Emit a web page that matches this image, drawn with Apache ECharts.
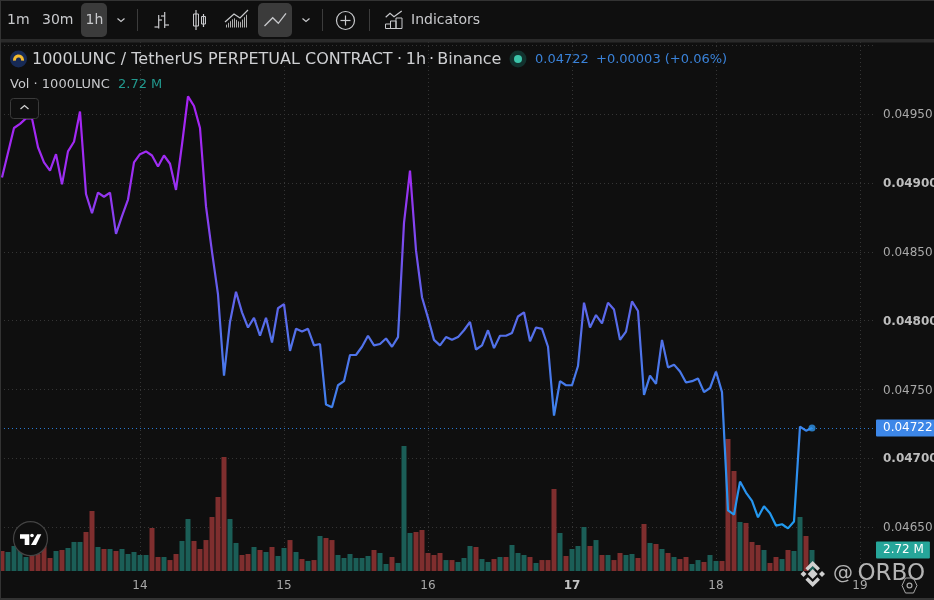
<!DOCTYPE html>
<html><head><meta charset="utf-8">
<style>html,body{margin:0;padding:0;background:#0f0f0f}#c{width:934px;height:600px}</style>
<script src="https://cdn.jsdelivr.net/npm/echarts@6/dist/echarts.min.js"></script>
</head><body><div id="c"></div>
<script>
const prices=[.04904,.04922,.0494,.04943,.04947,.04947,.04926,.04915,.04909,.04921,.04899,.04923,.0493,.04952,.04892,.04878,.04893,.0489,.04893,.04863,.04876,.04888,.04915,.04921,.04923,.0492,.04912,.0492,.04914,.04895,.04928,.04963,.04956,.0494,.04883,.0485,.04819,.0476,.04799,.04821,.04806,.04795,.04802,.04789,.04802,.04784,.04809,.04812,.04778,.04794,.04792,.04794,.04782,.04783,.04739,.04737,.04753,.04756,.04775,.04775,.04781,.04789,.04782,.04783,.04787,.04781,.04788,.04871,.04909,.04851,.04817,.04802,.04786,.04782,.04788,.04786,.04788,.04793,.04799,.04779,.04782,.04793,.0478,.04789,.04789,.04791,.04803,.04806,.04785,.04795,.04794,.04781,.04731,.04756,.04753,.04753,.04767,.04813,.04795,.04804,.04798,.04813,.04808,.04786,.04792,.04814,.04807,.04746,.0476,.04754,.04786,.04766,.04768,.04763,.04755,.04756,.04758,.04748,.04751,.04763,.04748,.04662,.04659,.04683,.04675,.04669,.04657,.04665,.0466,.04651,.04652,.04649,.04654,.04723,.0472,.04722];
const volumes=[2.59,2.46,3.24,2.72,1.81,2.2,2.2,3.24,1.68,2.59,2.72,2.98,3.76,3.76,5.05,7.77,3.11,2.85,2.85,2.59,2.85,2.2,2.46,2.07,2.07,5.57,1.81,1.81,1.42,2.2,3.89,6.73,3.89,2.85,4.01,6.99,9.58,14.76,6.73,3.63,2.07,2.2,3.11,2.72,2.46,3.11,1.94,2.98,4.01,2.46,1.55,1.3,1.42,4.53,4.27,4.01,2.07,1.68,2.2,1.68,1.68,1.94,2.72,2.33,.91,1.81,1.04,16.19,4.92,5.05,5.31,2.33,2.07,2.33,1.42,1.42,1.17,1.68,3.24,3.11,1.55,1.17,1.55,1.81,1.81,3.37,2.33,2.07,1.81,1.04,1.42,1.42,10.62,4.92,1.94,2.85,3.24,5.7,3.24,4.01,2.07,2.07,1.42,2.33,2.07,2.2,1.68,6.09,3.63,3.5,2.85,2.33,1.81,1.55,1.81,.91,1.42,1.17,2.07,1.3,1.3,17.09,12.95,6.35,6.22,3.76,3.37,2.72,1.04,1.81,1.55,2.72,2.59,6.99,4.53,2.72];
const volumeSides=[
'd','g','g','g','g','d','d','d','d','g','d','g','g','g','d','d','g','d','g','d','g','g','g','g','g','d','d','g','d','d','g','g','d','d','d','d','d','d','g','g','d','d','g','d','g','d','g','g','d','g','d','g',
'd','g','d','d','g','g','g','g','g','g','d','g','g','d','g','g','g','d','d','d','d','d','g','d','g','g','g','d','g','g','d','g','d','g','g','g','d','g','d','d','d','g','d','g','g','g','d','g','d','g','d','d',
'g','g','d','d','g','d','g','d','g','d','d','g','g','d','g','g','d','d','d','g','d','d','d','g','d','d','g','d','g','g','d','g'];
const hourIndex=prices.map((_,i)=>i);
const dayTicks=[23,47,71,95,119,143];
const dayLabels=['14','15','16','17','18','19'];
const boldDay='17';
const gridPrices=[.0465,.047,.0475,.048,.0485,.049,.0495,.05];
const labelPrices=[.0465,.047,.0475,.048,.0485,.049,.0495];
const boldPrices=[.047,.048,.049];
const lastPrice=.04722;
const lastVolume=2.72;

const UI='"DejaVu Sans"';
const TEXT='#c8c9cc';
const X_MIN=-0.3333, X_MAX=145.5;
const gridLine={show:true,lineStyle:{color:'#353535',type:[1,3],width:1}};

function txt(text,x,y,size,fill,extra){return {type:'text',z:20,style:Object.assign({text,x,y,font:`${size}px ${UI}`,fill,verticalAlign:'middle',align:'left'},extra||{})};}
function pl(points,stroke,w){return {type:'polyline',z:20,shape:{points},style:{stroke:stroke||TEXT,lineWidth:w||1.2,fill:null}};}
function rc(x,y,w,h,fill,r,stroke){return {type:'rect',z:19,shape:{x,y,width:w,height:h,r:r||0},style:{fill:fill||'none',stroke:stroke||null,lineWidth:1}};}
function pg(points,fill){return {type:'polygon',z:21,shape:{points},style:{fill}};}
function ci(cx,cy,r,fill,stroke){return {type:'circle',z:20,shape:{cx,cy,r},style:{fill:fill||'none',stroke:stroke||null,lineWidth:1.2}};}

const hatch=[];
for(let p=225;p<249;p+=2){hatch.push(Object.assign(rc(p,11,1,18,'#0f0f0f'),{z:20}));}

const graphics=[
 rc(0,0,934,1,'#333'),rc(0,39,934,3.5,'#2a2a2a'),rc(0,0,1,600,'#333'),rc(0,598,934,2,'#333'),
 rc(81,3,26,34,'#3b3b3b',5),rc(258,3,34,34,'#3b3b3b',5),
 txt('1m',7,20,14,TEXT),txt('30m',42,20,14,TEXT),txt('1h',85.5,20,14,TEXT),
 pl([[117.5,18.5],[121,21.5],[124.5,18.5]]),pl([[302.5,18.5],[306,21.5],[309.5,18.5]]),
 rc(137,9,1,22,'#3c3c3c'),rc(322,9,1,22,'#3c3c3c'),rc(369,9,1,22,'#3c3c3c'),
 pl([[158.7,15],[158.7,28.5]]),pl([[154.5,27],[158.7,27]]),pl([[158.7,20],[162,20]]),pl([[164.7,12],[164.7,28]]),pl([[161,16],[164.7,16]]),pl([[164.7,25],[169,25]]),
 pl([[196,10],[196,30]]),rc(193.5,14,5,12,'#0f0f0f',0,TEXT),pl([[203.5,14],[203.5,27]]),rc(201.5,16.5,4,7.5,'#0f0f0f',0,TEXT),
 {type:'polygon',z:19,shape:{points:[[225,26],[234,18],[240,22.5],[248,13],[248,27.5],[225,27.5]]},style:{fill:'#b0b0b0'}},
 ...hatch,
 Object.assign(pl([[225,22],[234,14],[240,18],[248,10]]),{z:21}),
 pl([[264.5,26],[272.7,17.7],[278.3,23.3],[286,13.3]],TEXT,1.3),
 ci(345.5,20.5,9,null,TEXT),pl([[340.5,20.5],[350.5,20.5]]),pl([[345.5,15.5],[345.5,25.5]]),
 pl([[385.7,17.3],[390,13.3],[394,16.7],[401.7,11]]),rc(385.5,24,5,4.5,null,0,TEXT),rc(390.5,21,5.5,7.5,null,0,TEXT),rc(396,18,6,10.5,null,0,TEXT),
 txt('Indicators',411,20,14,TEXT),
 ci(18.5,59,8.5,'#172a55'),{type:'sector',z:21,shape:{cx:18.5,cy:60,r0:2.5,r:5.5,startAngle:Math.PI*0.95,endAngle:Math.PI*2.05},style:{fill:'#f3ba2f'}},
 txt('1000LUNC / TetherUS PERPETUAL CONTRACT',32,60,16,'#cfd0d3'),
 txt('·',397,60,16,'#cfd0d3'),txt('1h',405.7,60,16,'#cfd0d3'),txt('·',429,60,16,'#cfd0d3'),txt('Binance',437.3,60,16,'#cfd0d3'),
 ci(518,59,8.5,'#12322e'),ci(518,59,4,'#3cc4aa'),
 txt('0.04722',535,60,13,'#3a82d8'),txt('+0.00003 (+0.06%)',596,60,13,'#3a82d8'),
 txt('Vol · 1000LUNC',10,84.5,13,'#c8c9cc'),txt('2.72 M',118,84.5,13,'#22998e'),
 rc(10.5,98.5,28,20,'#0f0f0f',3,'#3a3a3a'),pl([[20.5,109],[24.5,105.5],[28.5,109]],'#d0d0d0',1.3),
 ci(30.5,538.7,17,'#0f0f0f','#444'),
 pg([[20,534.3],[29.3,534.3],[29.3,545],[24.7,545],[24.7,538.7],[20,538.7]],'#fff'),ci(32,535.5,1.8,'#fff'),
 pg([[37.3,534.3],[41.3,534.3],[36,545],[31,545]],'#fff'),
 pg([[812.7,569],[817.7,574],[812.7,579],[807.7,574]],'#d0d0d0'),
 pg([[803.5,571],[806.5,574],[803.5,577],[800.5,574]],'#d0d0d0'),
 pg([[822,571],[825,574],[822,577],[819,574]],'#d0d0d0'),
 pg([[812.7,561],[820,568.3],[817.5,570.8],[812.7,566],[807.9,570.8],[805.4,568.3]],'#d0d0d0'),
 pg([[812.7,587],[820,579.7],[817.5,577.2],[812.7,582],[807.9,577.2],[805.4,579.7]],'#d0d0d0'),
 txt('@',833,574,20,'#b4b4b4'),txt('ORBO',857.5,574,23,'#b4b4b4'),
 {type:'polygon',z:20,shape:{points:[[905.5,578],[913.5,578],[917,585.5],[913.5,593],[905.5,593],[902,585.5]]},style:{fill:'none',stroke:'#a8a8a8',lineWidth:1}},
 ci(909.5,585.5,2.4,null,'#a8a8a8')
];

const chart=echarts.init(document.getElementById('c'),null,{renderer:'canvas'});
chart.setOption({
 animation:false,backgroundColor:'#0f0f0f',
 grid:{left:0,right:59,top:42,bottom:29,containLabel:false,outerBoundsMode:'none'},
 xAxis:{type:'value',min:X_MIN,max:X_MAX,axisLine:{show:false},
  axisTick:{show:false,customValues:dayTicks},splitLine:gridLine,
  axisLabel:{customValues:dayTicks,margin:9,color:'#a9a9a9',fontFamily:UI,fontSize:12,showMinLabel:true,showMaxLabel:true,
   formatter:v=>{const t=dayLabels[dayTicks.indexOf(v)];return t===boldDay?`{b|${t}}`:t;},
   rich:{b:{fontWeight:'bold',fontFamily:UI,fontSize:12,color:'#c4c4c4'}}}},
 yAxis:[
  {type:'value',position:'right',min:.04618,max:.050025,axisLine:{show:false},
   axisTick:{show:false,customValues:gridPrices},splitLine:gridLine,
   axisLabel:{customValues:labelPrices,margin:8,color:'#a9a9a9',fontFamily:UI,fontSize:12,padding:[2,0,0,0],
    formatter:v=>{const s=v.toFixed(5);return boldPrices.some(b=>Math.abs(b-v)<1e-9)?`{b|${s}}`:s;},
    rich:{b:{fontWeight:'bold',fontFamily:UI,fontSize:12,color:'#bdbdbd'}}}},
  {type:'value',position:'right',min:0,max:68.5,axisLine:{show:false},axisTick:{show:false},splitLine:{show:false},axisLabel:{show:false}}
 ],
 series:[
  {type:'bar',yAxisIndex:1,barWidth:5,z:2,silent:true,
   data:volumes.map((v,i)=>({value:[hourIndex[i],v],itemStyle:{color:volumeSides[i]==='g'?'#1b5e57':'#7f2e2e'}})),
   markLine:{silent:true,symbol:'none',animation:false,data:[[{coord:[X_MIN,lastVolume]},{coord:[X_MAX,lastVolume]}]],lineStyle:{color:'rgba(0,0,0,0)',width:0},
    label:{show:true,position:'end',distance:1,formatter:'2.72 M',color:'#fff',fontFamily:UI,fontSize:12,backgroundColor:'#26a69a',padding:[3,6,2,7],borderRadius:1}}},
  {type:'line',yAxisIndex:0,z:5,showSymbol:false,silent:true,lineStyle:{width:2.2,
    color:new echarts.graphic.LinearGradient(0,0,0,1,[{offset:0,color:'#a822f4'},{offset:.2,color:'#9c2ff2'},{offset:.45,color:'#6260ec'},{offset:.55,color:'#5470ea'},{offset:1,color:'#1e9cf0'}])},
   data:prices.map((v,i)=>[hourIndex[i],v]),
   markLine:{silent:true,symbol:'none',animation:false,data:[[{coord:[X_MIN,lastPrice]},{coord:[X_MAX,lastPrice]}]],lineStyle:{color:'#2a78d0',type:[1,3],width:1},
    label:{position:'end',distance:1,formatter:'0.04722',color:'#fff',fontFamily:UI,fontSize:12,backgroundColor:'#3d87e8',padding:[3,4,2,7],borderRadius:1}}},
  {type:'scatter',yAxisIndex:0,z:6,symbolSize:7,silent:true,itemStyle:{color:'#2f93ea'},data:[[hourIndex[hourIndex.length-1],lastPrice]]}
 ],
 graphic:graphics
});
</script>
</body></html>
